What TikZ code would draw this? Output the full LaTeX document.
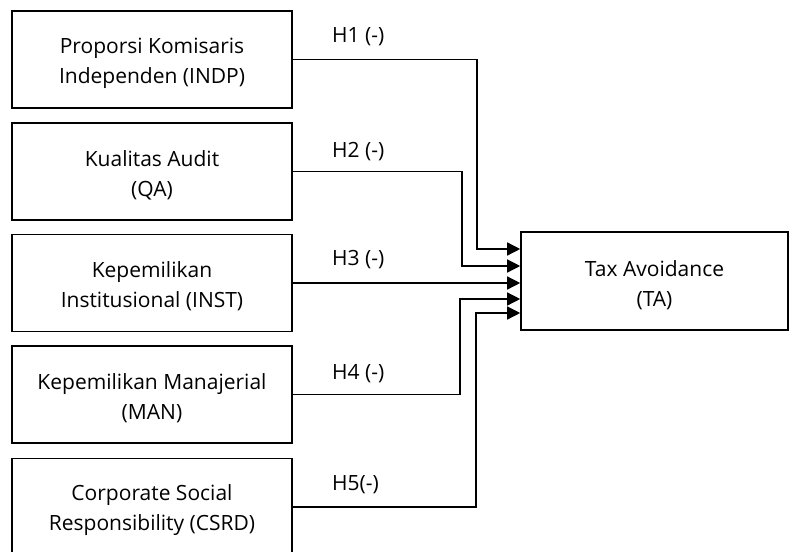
\documentclass[tikz,border=0pt]{standalone}
\usepackage{fontspec}
\setmainfont{Open Sans}
\usetikzlibrary{arrows.meta}
\begin{document}
\begin{tikzpicture}[x=1pt,y=-1pt,
  box/.style={draw,line width=1.6pt,minimum width=280pt,minimum height=97pt,inner sep=0pt},
  tabox/.style={draw,line width=1.6pt,minimum width=267pt,minimum height=98pt,inner sep=0pt},
  txt/.style={inner sep=0pt,align=center,font=\fontsize{21}{30}\selectfont},
  arr/.style={line width=1.4pt,-{Triangle[length=13pt,width=13pt]}},
  hlab/.style={anchor=west,inner sep=0pt,font=\fontsize{21}{24}\selectfont}]
\useasboundingbox (0,0) rectangle (789,551);
\clip (0,0) rectangle (789,551);
\node[box] (b1) at (152,59.5) {};
\node[box] (b2) at (152,171.5) {};
\node[box] (b3) at (152,283) {};
\node[box] (b4) at (152,394.5) {};
\node[box] (b5) at (152,507) {};
\node[tabox] (ta) at (654.5,281) {};
\node[txt] (t1) at ([yshift=-3.5pt]b1.center) {Proporsi Komisaris\\Independen (INDP)};
\node[txt] (t2) at ([yshift=-3.5pt]b2.center) {Kualitas Audit\\(QA)};
\node[txt] (t3) at ([yshift=-3.5pt]b3.center) {Kepemilikan\\Institusional (INST)};
\node[txt] (t4) at ([yshift=-3.5pt]b4.center) {Kepemilikan Manajerial\\(MAN)};
\node[txt] (t5) at ([yshift=-3.5pt]b5.center) {Corporate Social\\Responsibility (CSRD)};
\node[txt] (tta) at ([yshift=-4pt]ta.center) {Tax Avoidance\\(TA)};
\draw[arr] (b1.east) -- ++(184,0) |- ([yshift=32pt]ta.west);
\draw[arr] (b2.east) -- ++(169,0) |- ([yshift=15pt]ta.west);
\draw[arr] (b3.east) -- (b3.east -| ta.west);
\draw[arr] (b4.east) -- ++(167,0) |- ([yshift=-18pt]ta.west);
\draw[arr] (b5.east) -- ++(183,0) |- ([yshift=-32pt]ta.west);
\node[hlab] (h1) at (332,37) {H1 (-)};
\node[hlab] (h2) at (332,152) {H2 (-)};
\node[hlab] (h3) at (332,260) {H3 (-)};
\node[hlab] (h4) at (332,374) {H4 (-)};
\node[hlab] (h5) at (332,485) {H5(-)};
\end{tikzpicture}
\end{document}
